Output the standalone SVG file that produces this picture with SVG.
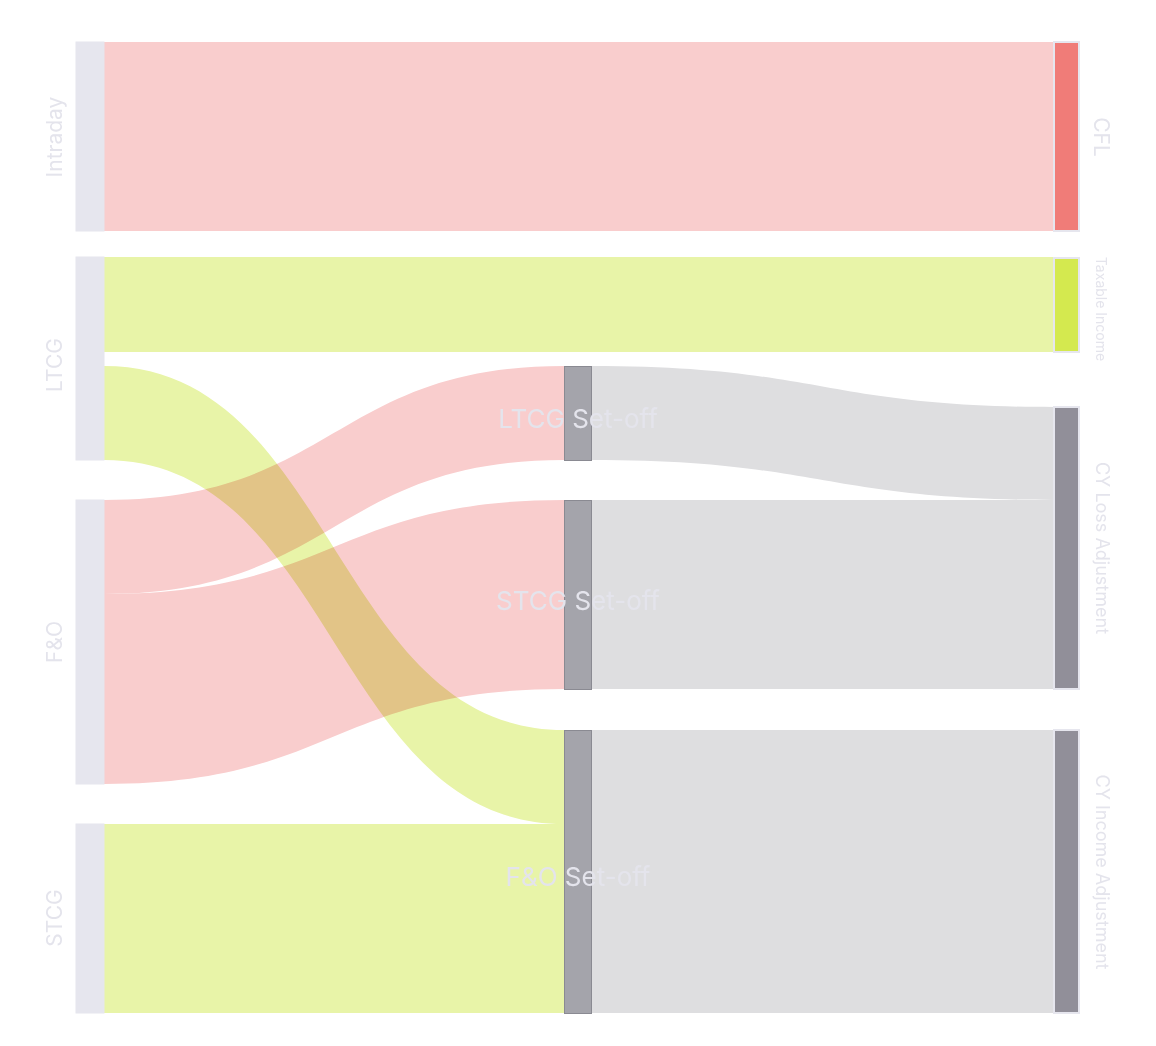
<svg xmlns="http://www.w3.org/2000/svg" width="1156" height="1046" viewBox="0 0 1156 1046">
<style>
.lk{mix-blend-mode:multiply}
.r{fill:#f9cdcd}.g{fill:#e8f4a8}.y{fill:#dedee0}
.nl{fill:#e6e6ee;stroke:#e6e6ee}
.nm{fill:#a4a4ab;stroke:#8a8a92}
.nr{fill:#918f99;stroke:#e6e6ee;stroke-width:2}
text{font-family:Inter,"Liberation Sans",sans-serif;fill:#e4e4ec}
.sl{font-size:21px}
.ml{font-size:26px;text-anchor:middle}
</style>
<rect width="1156" height="1046" fill="#fff"/>
<g id="links">
<path class="lk r" d="M104,42 H1054 V231 H104 Z"/>
<path class="lk g" d="M104,257 H1054 V352 H104 Z"/>
<path class="lk y" d="M591,500 H1054 V689 H591 Z"/>
<path class="lk y" d="M591,730 H1054 V1013 H591 Z"/>
<path class="lk y" d="M591,366 C822,366 822,407 1054,407 V500 C822,500 822,460 591,460 Z"/>
<path class="lk g" d="M104,824 H564 V1013 H104 Z"/>
<path class="lk r" d="M104,500 C334,500 334,366 564,366 V460 C334,460 334,594 104,594 Z"/>
<path class="lk r" d="M104,594 C334,594 334,500 564,500 V689 C334,689 334,784 104,784 Z"/>
<path class="lk g" d="M104,366 C334,366 334,730 564,730 V824 C334,824 334,460 104,460 Z"/>
</g>
<g id="n-intraday"><rect class="nl" x="76" y="42" width="28" height="189"/><text class="sl" transform="translate(62,137) rotate(-90)" text-anchor="middle">Intraday</text></g>
<g id="n-ltcg"><rect class="nl" x="76" y="257" width="28" height="203"/><text class="sl" transform="translate(62,365) rotate(-90)" text-anchor="middle">LTCG</text></g>
<g id="n-fo"><rect class="nl" x="76" y="500" width="28" height="284"/><text class="sl" transform="translate(62,642) rotate(-90)" text-anchor="middle">F&amp;O</text></g>
<g id="n-stcg"><rect class="nl" x="76" y="824" width="28" height="189"/><text class="sl" transform="translate(62,918) rotate(-90)" text-anchor="middle">STCG</text></g>
<g id="n-ltcgset"><rect class="nm" x="564.5" y="366.5" width="27" height="94"/><text class="ml" x="578" y="428">LTCG Set-off</text></g>
<g id="n-stcgset"><rect class="nm" x="564.5" y="500.5" width="27" height="189"/><text class="ml" x="578" y="610">STCG Set-off</text></g>
<g id="n-foset"><rect class="nm" x="564.5" y="730.5" width="27" height="283"/><text class="ml" x="578" y="886">F&amp;O Set-off</text></g>
<g id="n-cfl"><rect x="1054" y="42" width="25" height="189" fill="#f07c78" stroke="#e6e6ee" stroke-width="2"/><text class="sl" transform="translate(1094,137) rotate(90)" text-anchor="middle">CFL</text></g>
<g id="n-taxable"><rect x="1054" y="258" width="25" height="94" fill="#d4e94f" stroke="#e6e6ee" stroke-width="2"/><text transform="translate(1096,309) rotate(90)" text-anchor="middle" font-size="14">Taxable Income</text></g>
<g id="n-cyloss"><rect class="nr" x="1054" y="407" width="25" height="282"/><text transform="translate(1096,548) rotate(90)" text-anchor="middle" font-size="18">CY Loss Adjustment</text></g>
<g id="n-cyincome"><rect class="nr" x="1054" y="730" width="25" height="283"/><text transform="translate(1096,872) rotate(90)" text-anchor="middle" font-size="18">CY Income Adjustment</text></g>
</svg>
